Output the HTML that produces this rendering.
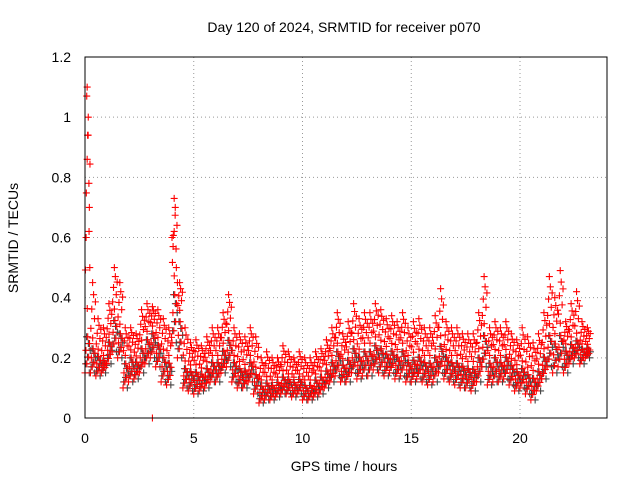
<!DOCTYPE html>
<html><head><meta charset="utf-8"><style>
body{margin:0;background:#fff;}
svg{display:block;font-family:"Liberation Sans",sans-serif;}
</style></head><body>
<svg id="chart" width="640" height="480">
<text x="344" y="32" font-size="14" text-anchor="middle">Day 120 of 2024, SRMTID for receiver p070</text>
<text x="344" y="471" font-size="14" text-anchor="middle">GPS time / hours</text>
<text transform="translate(18,238) rotate(-90)" font-size="14" text-anchor="middle">SRMTID / TECUs</text>
<g id="grid"></g>
<g id="ticks"></g>
<g id="gray"></g>
<g id="red"></g>
<rect x="85" y="57" width="522" height="361" fill="none" stroke="#000" stroke-width="1"/>
</svg>
<script>
const xTicks=[0,5,10,15,20];
const yTicks=[0,0.2,0.4,0.6,0.8,1,1.2];
const yTickLabels=["0","0.2","0.4","0.6","0.8","1","1.2"];
const step=0.25;
const hiValues=[1.1,0.45,0.33,0.3,0.38,0.5,0.45,0.3,0.3,0.28,0.36,0.38,0.37,0.36,0.33,0.3,0.73,0.45,0.3,0.25,0.26,0.24,0.27,0.3,0.3,0.35,0.41,0.3,0.28,0.27,0.3,0.27,0.2,0.22,0.2,0.2,0.24,0.22,0.2,0.22,0.2,0.2,0.22,0.23,0.26,0.3,0.35,0.28,0.32,0.38,0.33,0.35,0.35,0.38,0.36,0.33,0.34,0.32,0.35,0.3,0.32,0.33,0.3,0.3,0.34,0.43,0.32,0.3,0.3,0.28,0.28,0.28,0.35,0.47,0.3,0.32,0.3,0.32,0.28,0.26,0.3,0.27,0.25,0.28,0.35,0.47,0.4,0.49,0.32,0.38,0.42,0.32,0.3];
const midValues=[0.3,0.25,0.22,0.2,0.27,0.35,0.3,0.2,0.22,0.2,0.25,0.28,0.3,0.26,0.22,0.2,0.45,0.35,0.18,0.17,0.17,0.16,0.18,0.2,0.2,0.24,0.28,0.2,0.18,0.17,0.2,0.16,0.12,0.13,0.12,0.13,0.15,0.14,0.13,0.14,0.12,0.12,0.14,0.15,0.17,0.2,0.24,0.19,0.21,0.25,0.22,0.24,0.24,0.26,0.25,0.23,0.24,0.22,0.24,0.2,0.21,0.22,0.2,0.2,0.22,0.26,0.22,0.2,0.2,0.19,0.18,0.18,0.22,0.3,0.2,0.22,0.2,0.22,0.19,0.17,0.18,0.16,0.15,0.17,0.22,0.3,0.27,0.3,0.24,0.26,0.27,0.24,0.24];
const loValues=[0.15,0.15,0.14,0.15,0.18,0.22,0.2,0.1,0.12,0.13,0.15,0.18,0.2,0.17,0.12,0.11,0.25,0.2,0.1,0.09,0.08,0.09,0.1,0.12,0.12,0.15,0.17,0.12,0.1,0.1,0.12,0.08,0.05,0.06,0.06,0.07,0.08,0.08,0.07,0.08,0.06,0.06,0.07,0.08,0.1,0.12,0.14,0.12,0.12,0.15,0.13,0.14,0.14,0.16,0.15,0.14,0.15,0.13,0.14,0.12,0.12,0.13,0.12,0.11,0.12,0.15,0.13,0.12,0.11,0.1,0.1,0.09,0.12,0.17,0.11,0.12,0.12,0.13,0.11,0.09,0.1,0.08,0.06,0.09,0.13,0.17,0.15,0.17,0.15,0.18,0.2,0.18,0.2];
const spikeTimes=[0.05,0.08,0.1,0.12,0.15,0.18,0.2,0.22,4.0,4.05,4.1,4.15,4.2,4.25,3.1];
const spikeValues=[0.6,1.07,0.86,0.94,1.0,0.78,0.7,0.5,0.6,0.57,0.62,0.7,0.5,0.45,0.0];
const X=t=>85+t*(522/24);
const Y=v=>418-v*(361/1.2);
const NS="http://www.w3.org/2000/svg";
const grid=document.getElementById('grid'),ticks=document.getElementById('ticks');
xTicks.forEach(t=>{
  if(t>0){const l=document.createElementNS(NS,'line');
  l.setAttribute('x1',X(t));l.setAttribute('x2',X(t));l.setAttribute('y1',57);l.setAttribute('y2',418);
  l.setAttribute('stroke','#999');l.setAttribute('stroke-dasharray','1,3');
  
  
  grid.appendChild(l);}
  const tx=document.createElementNS(NS,'text');
  tx.setAttribute('x',X(t));tx.setAttribute('y',443);tx.setAttribute('font-size','14');tx.setAttribute('text-anchor','middle');
  tx.textContent=t;
  
  
  ticks.appendChild(tx);
});
yTicks.forEach((v,i)=>{
  if(v>0&&v<1.2){const l=document.createElementNS(NS,'line');
  l.setAttribute('x1',85);l.setAttribute('x2',607);l.setAttribute('y1',Y(v));l.setAttribute('y2',Y(v));
  l.setAttribute('stroke','#999');l.setAttribute('stroke-dasharray','1,3');
  
  
  grid.appendChild(l);}
  const tx=document.createElementNS(NS,'text');
  tx.setAttribute('x',71);tx.setAttribute('y',Y(v)+5);tx.setAttribute('font-size','14');tx.setAttribute('text-anchor','end');
  tx.textContent=yTickLabels[i];
  
  
  ticks.appendChild(tx);
});
function plus(g,t,v,color){
  const x=X(t),y=Y(v);
  const p=document.createElementNS(NS,'path');
  p.setAttribute('d',`M${x-3.5},${y}H${x+3.5}M${x},${y-3.5}V${y+3.5}`);
  p.setAttribute('stroke',color);p.setAttribute('stroke-width','1.1');
  
  
  g.appendChild(p);
}
const red=document.getElementById('red'),gray=document.getElementById('gray');
// envelope fill: markers distributed between lo/mid/hi at each step
const lowFr=[0,0.5,0.2,0.8,0.35,0.65];
const highFr=[0.3,0.7,0.1,1,0.5,0.85];
loValues.forEach((lo,i)=>{
  const mid=midValues[i],hi=hiValues[i];
  for(let k=0;k<6;k++){
    const t=i*step+k*step/6;
    plus(gray,t+0.03,lo+(mid-lo)*lowFr[(k+2)%6],'#444');
    plus(red,t,lo+(mid-lo)*lowFr[k],'#f00');
    plus(red,t+0.02,mid+(hi-mid)*highFr[k]*0.8,'#f00');
  }
  plus(red,i*step+0.1,hi,'#f00');
});
spikeTimes.forEach((t,i)=>plus(red,t,spikeValues[i],'#f00'));
</script>
</body></html>
